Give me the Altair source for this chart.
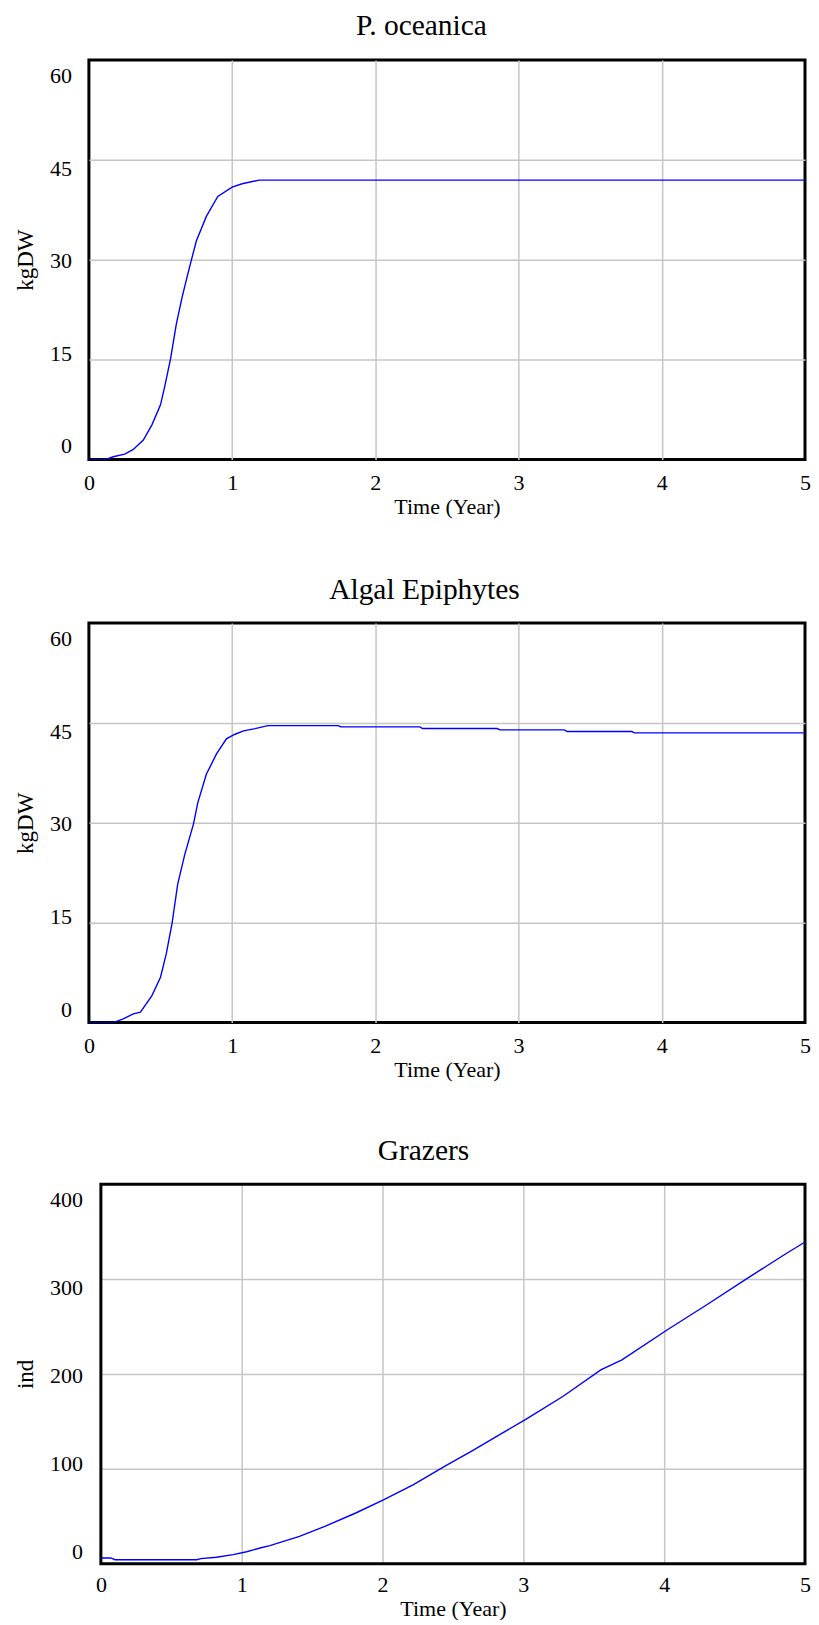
import altair as alt
import pandas as pd

FONT = "Liberation Serif"

# P. oceanica (kgDW)
po_t = [0, 0.12, 0.17, 0.25, 0.31, 0.38, 0.44, 0.5, 0.53, 0.57, 0.61, 0.65, 0.69, 0.715, 0.75, 0.82, 0.9, 1.0, 1.07, 1.19, 5.0]
po_v = [0, 0, 0.4, 0.8, 1.5, 2.9, 5.2, 8.2, 11.0, 15.1, 20.3, 24.3, 27.8, 29.9, 32.8, 36.5, 39.5, 40.9, 41.4, 41.95, 41.95]

# Algal Epiphytes (kgDW)
ae_t = [0, 0.17, 0.24, 0.31, 0.36, 0.44, 0.5, 0.54, 0.58, 0.62, 0.67, 0.73, 0.76, 0.82, 0.89, 0.96, 1.02, 1.08, 1.16,
        1.25, 1.74, 1.76, 2.31, 2.33, 2.85, 2.87, 3.32, 3.34, 3.79, 3.81, 5.0]
ae_v = [0, 0, 0.55, 1.3, 1.55, 4.05, 6.8, 10.3, 14.8, 20.8, 25.3, 29.8, 33.0, 37.3, 40.3, 42.6, 43.3, 43.8, 44.15,
        44.6, 44.6, 44.4, 44.4, 44.15, 44.15, 43.95, 43.95, 43.7, 43.7, 43.5, 43.5]

# Grazers (ind)
gr_t = [0, 0.07, 0.1, 0.68, 0.71, 0.82, 0.94, 1.035, 1.13, 1.2, 1.41, 1.59, 1.81, 2.01, 2.22, 2.44, 2.63, 2.85,
        3.02, 3.28, 3.55, 3.7, 4.02, 4.3, 4.59, 4.85, 5.0]
gr_v = [6, 6, 4.2, 4.2, 5.3, 6.7, 9.5, 12.6, 16.5, 19.0, 28.8, 39.3, 53.4, 67.4, 83.2, 102.5, 118.3, 137.6,
        152.3, 176.2, 204.2, 214.7, 246.3, 272.6, 300.7, 325.3, 339.0]

x_ticks = [0, 1, 2, 3, 4, 5]
kg_ticks = [0, 15, 30, 45, 60]
ind_ticks = [0, 100, 200, 300, 400]


def panel(t, v, title, ytitle, yticks, w, h, title_offset, title_dx,
          label_pad, off_top, off_bot, inset=0, x_label_pad=13, x_title_pad=3):
    top = yticks[-1]
    df = pd.DataFrame({"t": t, "v": v})
    ticks_df = pd.DataFrame({"tick": yticks})
    if inset:
        xscale = alt.Scale(domain=[0, 5], nice=False, zero=False, range=[inset, w])
    else:
        xscale = alt.Scale(domain=[0, 5], nice=False, zero=False)
    yscale = alt.Scale(domain=[0, top], nice=False)
    edge_x = "datum.value == 0 || datum.value == 5"
    edge_y = f"datum.value == 0 || datum.value == {top}"

    xaxis = alt.Axis(
        values=x_ticks, format="d", title="Time (Year)", labelFlush=False,
        labelPadding=x_label_pad, titlePadding=x_title_pad, titleFontSize=22,
        gridOpacity={"condition": {"test": edge_x, "value": 0}, "value": 1},
    )
    yaxis = alt.Axis(
        values=yticks, labels=False, title=ytitle, titleFontSize=23, titlePadding=51,
        gridOpacity={"condition": {"test": edge_y, "value": 0}, "value": 1},
    )

    line = alt.Chart(df).mark_line(color="#0000ff", strokeWidth=1.4, clip=True).encode(
        x=alt.X("t:Q", scale=xscale, axis=xaxis),
        y=alt.Y("v:Q", scale=yscale, axis=yaxis),
    )

    # Vensim spreads its value labels slightly inward from the gridlines:
    # pixel shift grows linearly from the bottom label to the top label.
    slope = (off_top - off_bot) / top
    px_to_units = top / h
    labels = (
        alt.Chart(ticks_df)
        .transform_calculate(pos=f"datum.tick - ({off_bot} + datum.tick * {slope}) * {px_to_units}")
        .mark_text(align="right", baseline="middle", dx=-label_pad, font=FONT, fontSize=22, color="black")
        .encode(
            x=alt.XDatum(0, type="quantitative", scale=xscale, axis=xaxis),
            y=alt.Y("pos:Q", scale=yscale, axis=yaxis),
            text=alt.Text("tick:Q", format="d"),
        )
    )

    layers = [line, labels]
    extra = {}
    if inset:
        # frame drawn around the data domain, since the plot is inset in its group
        frame_df = pd.DataFrame({"x0": [0], "x1": [5], "y0": [0], "y1": [top]})
        frame = alt.Chart(frame_df).mark_rect(fillOpacity=0, stroke="black", strokeWidth=3).encode(
            x=alt.X("x0:Q", scale=xscale, axis=xaxis), x2="x1:Q",
            y=alt.Y("y0:Q", scale=yscale, axis=yaxis), y2="y1:Q",
        )
        layers = [frame, line, labels]
        extra["view"] = alt.ViewBackground(stroke=None)

    return alt.layer(
        *layers,
        title=alt.Title(
            title, fontSize=29.5, font=FONT, fontWeight="normal", color="black",
            offset=title_offset, dx=title_dx,
        ),
    ).properties(width=w, height=h, **extra)


c1 = panel(po_t, po_v, "P. oceanica", "kgDW", kg_ticks, 717, 400, 18.8, -25.5, 17, 16.2, -13.0)
c2 = panel(ae_t, ae_v, "Algal Epiphytes", "kgDW", kg_ticks, 717, 400, 17.1, -22.5, 17, 16.2, -13.0)
c3 = panel(gr_t, gr_v, "Grazers", "ind", ind_ticks, 717, 380, 15.8, -23.5, 18, 15.5, -11.9,
           inset=12, x_label_pad=11, x_title_pad=3)

chart = (
    alt.vconcat(c1, c2, c3, spacing=53.8)
    .properties(padding={"left": 5, "top": 0, "right": -1, "bottom": -1})
    .configure(background="white")
    .configure_view(stroke="black", strokeWidth=3)
    .configure_axis(
        domain=False, ticks=False, tickSize=0, grid=True, gridColor="#c6c6c6", gridWidth=1.5,
        labelFont=FONT, labelFontSize=22, labelColor="black",
        titleFont=FONT, titleFontWeight="normal", titleColor="black",
    )
)

chart.save("out.html", embed_options={"renderer": "svg", "actions": False})
